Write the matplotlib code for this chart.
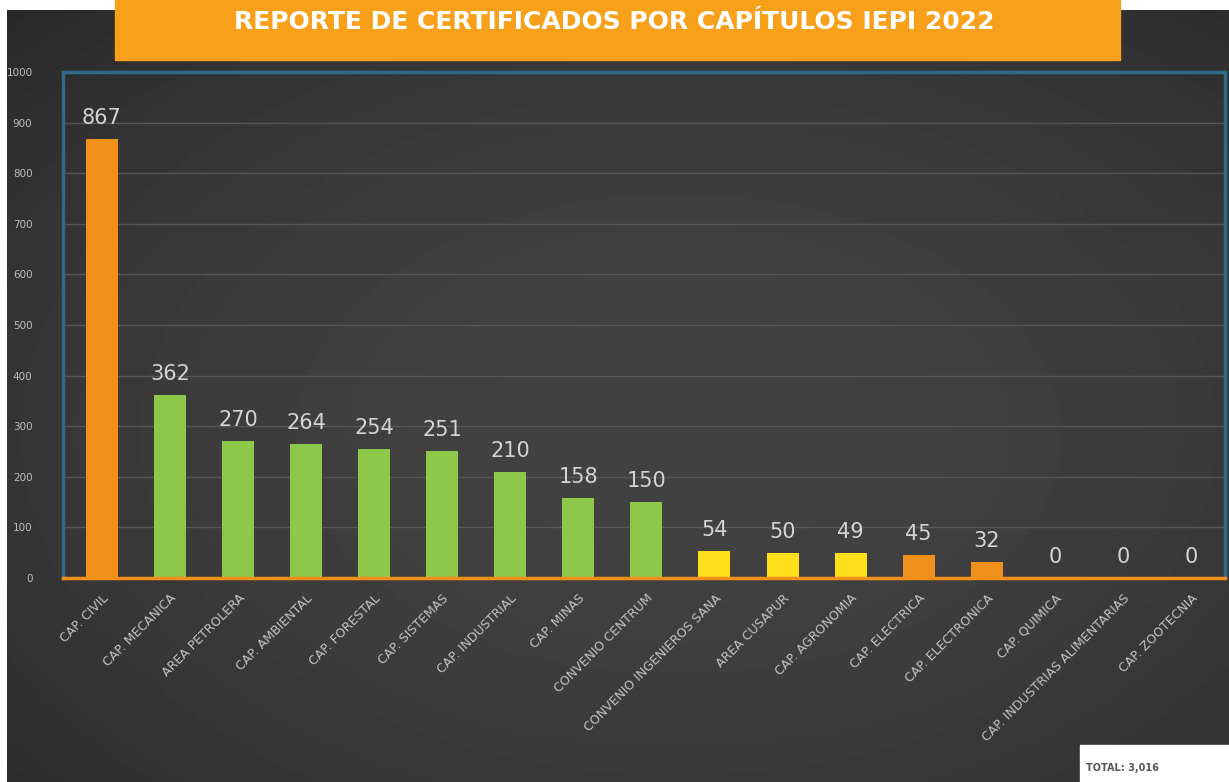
import numpy as np
import matplotlib.pyplot as plt
from matplotlib.patches import Rectangle

# datos
capitulos = ['CAP. CIVIL', 'CAP. MECANICA', 'AREA PETROLERA', 'CAP. AMBIENTAL', 'CAP. FORESTAL',
             'CAP. SISTEMAS', 'CAP. INDUSTRIAL', 'CAP. MINAS', 'CONVENIO CENTRUM',
             'CONVENIO INGENIEROS SANA', 'AREA CUSAPUR', 'CAP. AGRONOMIA', 'CAP. ELECTRICA',
             'CAP. ELECTRONICA', 'CAP. QUIMICA', 'CAP. INDUSTRIAS ALIMENTARIAS', 'CAP. ZOOTECNIA']
certificados = [867, 362, 270, 264, 254, 251, 210, 158, 150, 54, 50, 49, 45, 32, 0, 0, 0]
colores = ['#F0901A'] + ['#8DC84B'] * 8 + ['#FFE01A'] * 3 + ['#F0901A'] * 5
total = sum(certificados)

fig = plt.figure(figsize=(12.29, 7.82), dpi=100)
fig.patch.set_facecolor('white')

# fondo oscuro con degradado
bg = fig.add_axes([7 / 1229, 0, 1 - 7 / 1229, 1 - 10 / 782])
yy, xx = np.mgrid[0:1:200j, 0:1:300j]
grad = 0.8 - 0.5 * ((xx - 0.55) ** 2 + (yy - 0.55) ** 2)
bg.imshow(grad, cmap='gray', vmin=0, vmax=3.1, aspect='auto', extent=[0, 1, 0, 1])
bg.axis('off')

# barra del titulo
fig.patches.append(Rectangle((115 / 1229, 1 - 60 / 782), 1005 / 1229, 60 / 782,
                             transform=fig.transFigure, color='#F9A01B', zorder=5))
fig.text(0.5, 1 - 22 / 782, 'REPORTE DE CERTIFICADOS POR CAPÍTULOS IEPI 2022',
         ha='center', va='center', color='white', fontsize=18, fontweight='semibold',
         family='DejaVu Sans', zorder=6)

ax = fig.add_axes([63 / 1229, 1 - 578 / 782, 1162 / 1229, 506 / 782])
ax.set_facecolor('none')
x = np.arange(len(capitulos))
ax.bar(x, certificados, width=0.47, color=colores, zorder=3)
for xi, v in zip(x, certificados):
    ax.annotate(str(v), (xi, v), xytext=(0, 8), textcoords='offset points',
                ha='center', va='bottom', fontsize=15, color='#d4d4d4')

ax.set_ylim(0, 1000)
ax.set_xlim(-0.57, 16.5)
ax.set_yticks(range(0, 1001, 100))
ax.yaxis.grid(True, color='#575757', linewidth=1)
ax.set_axisbelow(True)
for lado in ['top', 'left', 'right']:
    ax.spines[lado].set_color('#2D6B86')
    ax.spines[lado].set_linewidth(2.5)
ax.spines['bottom'].set_color('#F0901A')
ax.spines['bottom'].set_linewidth(2.5)
ax.spines['bottom'].set_zorder(4)

ax.set_xticks(x)
ax.set_xticklabels(capitulos, rotation=45, ha='right', rotation_mode='anchor',
                   fontsize=9, color='#c4c4c4')
ax.tick_params(axis='x', length=0, pad=10)
ax.tick_params(axis='y', length=0, pad=22, labelsize=7.5, labelcolor='#bdbdbd')

# caja del total
fig.patches.append(Rectangle((1080 / 1229, 0), 149 / 1229, 37 / 782,
                             transform=fig.transFigure, color='white', zorder=5))
fig.text(1122 / 1229, 14 / 782, 'TOTAL: {:,}'.format(total), ha='center', va='center',
         fontsize=7, fontweight='bold', color='#555555', zorder=6)

fig.savefig('out.png', dpi=100, facecolor=fig.get_facecolor())
